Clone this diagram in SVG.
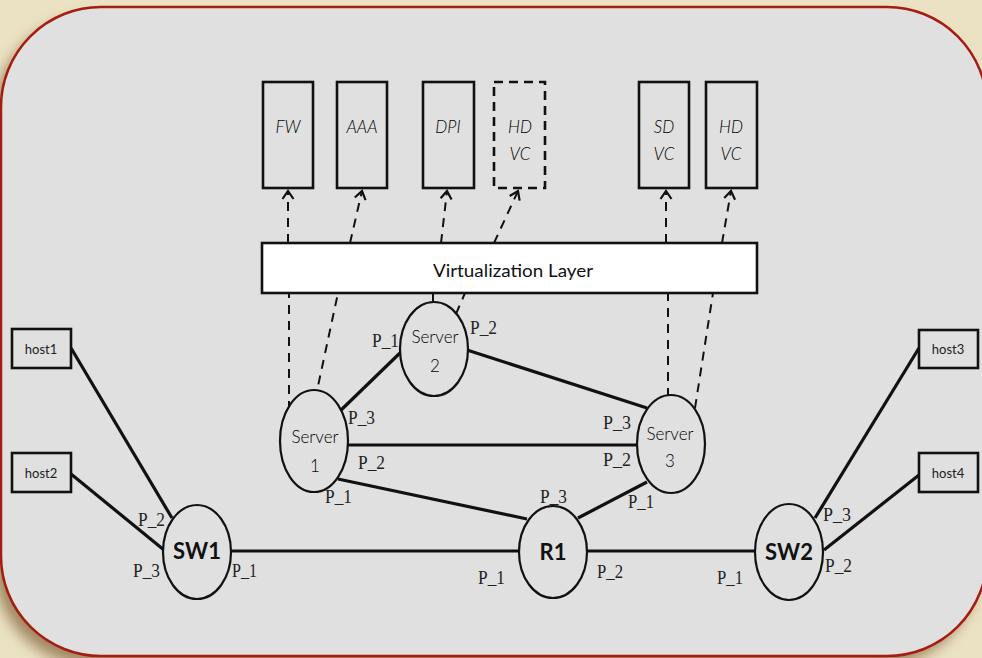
<svg xmlns="http://www.w3.org/2000/svg" width="982" height="658" viewBox="0 0 982 658">
<defs>
<filter id="sh" x="-10%" y="-10%" width="120%" height="120%"><feGaussianBlur stdDeviation="7"/></filter>
<marker id="ah" markerUnits="userSpaceOnUse" markerWidth="12" markerHeight="12" refX="0" refY="0" orient="auto" overflow="visible"><path d="M-8,-5.5 L0,0 L-8,5.5" fill="none" stroke="#111" stroke-width="2.2"/></marker>
<style>
.box{fill:#e0e0e0;stroke:#111;stroke-width:2.6}
.dbox{fill:#e0e0e0;stroke:#111;stroke-width:2.6;stroke-dasharray:9 6}
.nd{fill:#e0e0e0;stroke:#111;stroke-width:2.2}
.lk{stroke:#111;stroke-width:3.2;fill:none}
.ds{stroke:#111;stroke-width:2;fill:none;stroke-dasharray:9 7}
.vf{font-family:Lato,"Open Sans",sans-serif;font-style:italic;font-weight:300;font-size:17px;fill:#000;text-anchor:middle}
.sv{font-family:Lato,"Open Sans",sans-serif;font-weight:300;font-size:17px;fill:#000;text-anchor:middle}
.bd{font-family:Lato,"Open Sans",sans-serif;font-weight:bold;font-size:22px;fill:#111;text-anchor:middle}
.hs{font-family:Lato,"Open Sans",sans-serif;font-size:13px;fill:#222;text-anchor:middle}
.pt{font-family:"Liberation Serif",serif;font-size:19px;fill:#222}
</style>
</defs>
<rect width="982" height="658" fill="#ebe2c4"/>
<rect x="-6" y="17" width="984" height="649" rx="100" fill="#a08660" filter="url(#sh)"/>
<rect x="1" y="7" width="986" height="649" rx="100" fill="#e0e0e0" stroke="#a51c10" stroke-width="2.5"/>

<g id="connectors">
<line class="ds" x1="288" y1="243" x2="288" y2="191" marker-end="url(#ah)"/>
<line class="ds" x1="350" y1="243" x2="362" y2="191" marker-end="url(#ah)"/>
<line class="ds" x1="441" y1="243" x2="447" y2="191" marker-end="url(#ah)"/>
<line class="ds" x1="494" y1="243" x2="518" y2="191" marker-end="url(#ah)"/>
<line class="ds" x1="666" y1="243" x2="666" y2="191" marker-end="url(#ah)"/>
<line class="ds" x1="722" y1="243" x2="731" y2="191" marker-end="url(#ah)"/>
<line class="ds" x1="289" y1="410" x2="289" y2="293"/>
<line class="ds" x1="315" y1="400" x2="338" y2="293"/>
<line stroke="#111" stroke-width="2" x1="433" y1="303" x2="433" y2="293"/>
<line class="ds" x1="456" y1="314" x2="465" y2="293"/>
<line class="ds" x1="668" y1="397" x2="668" y2="293"/>
<line class="ds" x1="695" y1="408" x2="713" y2="293"/>
<line class="lk" x1="71" y1="348" x2="172" y2="518"/>
<line class="lk" x1="71" y1="474" x2="164" y2="550"/>
<line class="lk" x1="230" y1="551" x2="519" y2="551"/>
<line class="lk" x1="587" y1="551" x2="756" y2="551"/>
<line class="lk" x1="815" y1="518" x2="919" y2="348"/>
<line class="lk" x1="824" y1="550" x2="919" y2="475"/>
<line class="lk" x1="338" y1="413" x2="401" y2="352"/>
<line class="lk" x1="467" y1="350" x2="647" y2="408"/>
<line class="lk" x1="348" y1="445" x2="637" y2="445"/>
<line class="lk" x1="338" y1="479" x2="527" y2="519"/>
<line class="lk" x1="647" y1="482" x2="578" y2="518"/>
</g>

<g id="fw"><rect class="box" x="263" y="82" width="50" height="106"/><text class="vf" x="288" y="133">FW</text></g>
<g id="aaa"><rect class="box" x="337" y="82" width="50" height="106"/><text class="vf" x="362" y="133">AAA</text></g>
<g id="dpi"><rect class="box" x="423" y="82" width="51" height="106"/><text class="vf" x="448" y="133">DPI</text></g>
<g id="hdvc1"><rect class="dbox" x="494" y="82" width="51" height="106"/><text class="vf" x="520" y="133">HD</text><text class="vf" x="520" y="160">VC</text></g>
<g id="sdvc"><rect class="box" x="639" y="82" width="50" height="106"/><text class="vf" x="664" y="133">SD</text><text class="vf" x="664" y="160">VC</text></g>
<g id="hdvc2"><rect class="box" x="706" y="82" width="51" height="106"/><text class="vf" x="731" y="133">HD</text><text class="vf" x="731" y="160">VC</text></g>

<g id="vlayer"><rect x="262" y="243" width="495" height="50" fill="#fff" stroke="#111" stroke-width="2.6"/><text x="513" y="277" font-family="Lato,'Open Sans',sans-serif" font-size="18" fill="#111" text-anchor="middle" textLength="160" lengthAdjust="spacingAndGlyphs">Virtualization Layer</text></g>

<g id="server2"><ellipse class="nd" cx="434" cy="349" rx="34" ry="47"/><text class="sv" x="435" y="343">Server</text><text class="sv" x="435" y="372">2</text></g>
<g id="server1"><ellipse class="nd" cx="314" cy="441" rx="34" ry="51"/><text class="sv" x="315" y="443">Server</text><text class="sv" x="315" y="472">1</text></g>
<g id="server3"><ellipse class="nd" cx="671" cy="444" rx="34" ry="49"/><text class="sv" x="670" y="440">Server</text><text class="sv" x="670" y="467">3</text></g>
<g id="sw1"><ellipse class="nd" cx="197" cy="552" rx="34" ry="47"/><text class="bd" x="197" y="559">SW1</text></g>
<g id="r1"><ellipse class="nd" cx="553" cy="552" rx="34" ry="46"/><text class="bd" x="553" y="560">R1</text></g>
<g id="sw2"><ellipse class="nd" cx="789" cy="552" rx="34" ry="48"/><text class="bd" x="789" y="560">SW2</text></g>

<g id="host1"><rect class="box" x="12" y="329" width="59" height="39"/><text class="hs" x="41" y="354">host1</text></g>
<g id="host2"><rect class="box" x="12" y="453" width="59" height="39"/><text class="hs" x="41" y="478">host2</text></g>
<g id="host3"><rect class="box" x="919" y="330" width="59" height="38"/><text class="hs" x="948" y="354">host3</text></g>
<g id="host4"><rect class="box" x="919" y="453" width="59" height="39"/><text class="hs" x="948" y="478">host4</text></g>

<g id="ports">
<text class="pt" x="372" y="347" textLength="27" lengthAdjust="spacingAndGlyphs">P_1</text>
<text class="pt" x="470" y="334" textLength="27" lengthAdjust="spacingAndGlyphs">P_2</text>
<text class="pt" x="348" y="424" textLength="27" lengthAdjust="spacingAndGlyphs">P_3</text>
<text class="pt" x="358" y="469" textLength="27" lengthAdjust="spacingAndGlyphs">P_2</text>
<text class="pt" x="325" y="503" textLength="27" lengthAdjust="spacingAndGlyphs">P_1</text>
<text class="pt" x="603" y="429" textLength="28" lengthAdjust="spacingAndGlyphs">P_3</text>
<text class="pt" x="603" y="466" textLength="28" lengthAdjust="spacingAndGlyphs">P_2</text>
<text class="pt" x="628" y="508" textLength="26" lengthAdjust="spacingAndGlyphs">P_1</text>
<text class="pt" x="540" y="503" textLength="27" lengthAdjust="spacingAndGlyphs">P_3</text>
<text class="pt" x="478" y="584" textLength="27" lengthAdjust="spacingAndGlyphs">P_1</text>
<text class="pt" x="597" y="578" textLength="26" lengthAdjust="spacingAndGlyphs">P_2</text>
<text class="pt" x="717" y="584" textLength="26" lengthAdjust="spacingAndGlyphs">P_1</text>
<text class="pt" x="823" y="521" textLength="28" lengthAdjust="spacingAndGlyphs">P_3</text>
<text class="pt" x="825" y="572" textLength="27" lengthAdjust="spacingAndGlyphs">P_2</text>
<text class="pt" x="138" y="526" textLength="27" lengthAdjust="spacingAndGlyphs">P_2</text>
<text class="pt" x="133" y="577" textLength="27" lengthAdjust="spacingAndGlyphs">P_3</text>
<text class="pt" x="232" y="577" textLength="25" lengthAdjust="spacingAndGlyphs">P_1</text>
</g>
</svg>
